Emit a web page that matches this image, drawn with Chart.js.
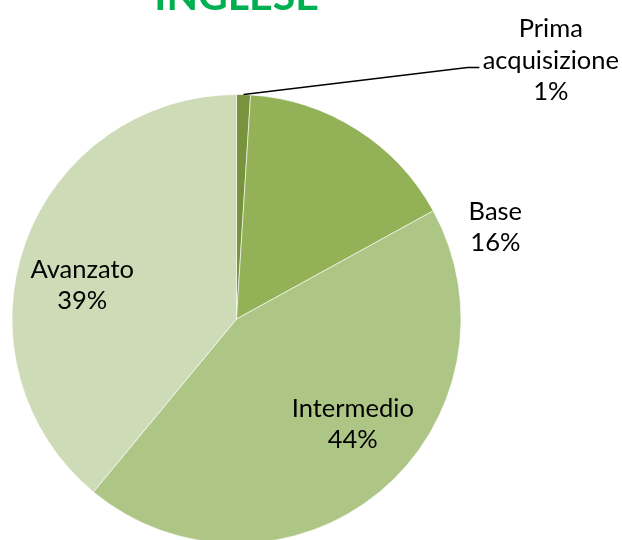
<!DOCTYPE html>
<html>
<head>
<meta charset="utf-8">
<script src="https://cdn.jsdelivr.net/npm/chart.js@4/dist/chart.umd.min.js"></script>
<style>
  html, body { margin: 0; padding: 0; background: #fff; overflow: hidden; width: 622px; height: 540px; }
  #wrap { position: absolute; left: 0; top: -28px; width: 622px; height: 588px; }
</style>
</head>
<body>
<div id="wrap"><canvas id="c" width="622" height="588"></canvas></div>
<script>
const titleText = 'INGLESE';
const categories = ['Prima acquisizione', 'Base', 'Intermedio', 'Avanzato'];
const values = [1, 16, 44, 39];
const colors = ['#77933C', '#93B157', '#ADC686', '#CEDBB7'];

// label centre offsets, in units of the pie radius, relative to the pie centre
const labelOffsets = [[1.40, -1.151], [1.153, -0.409], [0.518, 0.469], [-0.687, -0.151]];
// leader line for the first slice: elbow and end, in radius units
const leader = { elbow: [1.029, -1.12], end: [1.082, -1.12] };

const labelFont = '25.5px Lato';
const lineGap = 31.5;

const labelPlugin = {
  id: 'sliceLabels',
  afterDatasetsDraw(chart) {
    const ctx = chart.ctx;
    const meta = chart.getDatasetMeta(0);
    const total = values.reduce((a, b) => a + b, 0);
    ctx.save();
    meta.data.forEach((arc, i) => {
      const p = arc.getProps(['x', 'y', 'outerRadius', 'startAngle', 'endAngle'], true);
      const r = p.outerRadius;
      const lx = p.x + labelOffsets[i][0] * r;
      const ly = p.y + labelOffsets[i][1] * r;
      const lines = categories[i].split(' ');
      lines.push(Math.round(values[i] / total * 100) + '%');
      ctx.font = labelFont;
      ctx.fillStyle = '#000';
      ctx.textAlign = 'center';
      ctx.textBaseline = 'middle';
      const y0 = ly - (lines.length - 1) * lineGap / 2;
      lines.forEach((t, k) => ctx.fillText(t, lx, y0 + k * lineGap));
      if (i === 0) {
        const mid = (p.startAngle + p.endAngle) / 2;
        ctx.beginPath();
        ctx.strokeStyle = '#000';
        ctx.lineWidth = 1.5;
        ctx.moveTo(p.x + Math.cos(mid) * r, p.y + Math.sin(mid) * r);
        ctx.lineTo(p.x + leader.elbow[0] * r, p.y + leader.elbow[1] * r);
        ctx.lineTo(p.x + leader.end[0] * r, p.y + leader.end[1] * r);
        ctx.stroke();
      }
    });
    ctx.restore();
  }
};

new Chart(document.getElementById('c'), {
  type: 'pie',
  data: {
    labels: categories,
    datasets: [{
      data: values,
      backgroundColor: colors,
      borderColor: 'rgba(255,255,255,0.6)',
      borderWidth: 1
    }]
  },
  options: {
    responsive: false,
    animation: false,
    layout: { padding: { left: 11.5, right: 160.5, top: 0, bottom: 16 } },
    plugins: {
      legend: { display: false },
      tooltip: { enabled: false },
      title: {
        display: true,
        text: titleText,
        color: '#00B050',
        font: { family: 'Lato', size: 41, weight: 'bold', lineHeight: 1.2 },
        padding: { top: 0, bottom: 72.8 }
      }
    }
  },
  plugins: [labelPlugin]
});
</script>
</body>
</html>
